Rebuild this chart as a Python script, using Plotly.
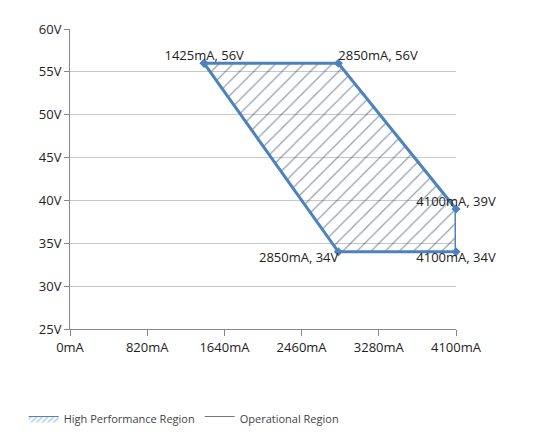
import plotly.graph_objects as go

# vertices of the high performance region
current_ma = [1425, 2850, 4100, 4100, 2850, 1425]
voltage_v = [56, 56, 39, 34, 34, 56]

label_x = [1425, 2850, 4100, 2850, 4100]
label_y = [56, 56, 39, 34, 34]
label_text = ["1425mA, 56V", "2850mA, 56V", "4100mA, 39V", "2850mA, 34V", "4100mA, 34V"]
label_pos = ["top center", "top right", "top center", "bottom left", "bottom center"]

x_ticks = [0, 820, 1640, 2460, 3280, 4100]
y_ticks = [25, 30, 35, 40, 45, 50, 55, 60]

blue = "#4f81bd"
hatch = dict(shape="/", fgcolor="#1f3f6f", size=10, solidity=0.12)

fig = go.Figure()
fig.add_trace(go.Scatter(
    x=current_ma, y=voltage_v, mode="lines+markers", fill="toself",
    fillcolor="rgba(255,255,255,0)", fillpattern=hatch,
    line=dict(color=blue, width=3), marker=dict(color=blue, size=7, symbol="diamond"),
    showlegend=False, cliponaxis=False,
))
fig.add_trace(go.Scatter(
    x=label_x, y=label_y, mode="text", text=label_text, textposition=label_pos,
    textfont=dict(size=13, color="#222"), showlegend=False, hoverinfo="skip",
    cliponaxis=False,
))
# legend-only entries
fig.add_trace(go.Scatter(
    x=[None, None], y=[None, None], fill="toself", mode="lines",
    fillcolor="rgba(255,255,255,0)", fillpattern=dict(shape="/", fgcolor=blue, size=4, solidity=0.3),
    line=dict(color=blue, width=1), name="High Performance Region",
))
fig.add_trace(go.Scatter(
    x=[None, None], y=[None, None], fill="toself", mode="lines",
    fillcolor="white", line=dict(color="#777", width=1),
    name="Operational Region",
))

fig.update_layout(
    width=535, height=437, plot_bgcolor="white", paper_bgcolor="white",
    margin=dict(l=62, r=87, t=18, b=107),
    font=dict(family="Open Sans, Liberation Sans, sans-serif", size=13, color="#222"),
    legend=dict(orientation="h", x=-0.12, y=-0.25, xanchor="left", yanchor="top",
                font=dict(size=11, color="#444")),
)
fig.update_xaxes(range=[0, 4100], tickvals=x_ticks, ticktext=[f"{v}mA" for v in x_ticks],
                 showgrid=False, showline=True, linecolor="#888", ticks="outside",
                 tickcolor="#888", ticklen=6, zeroline=False)
fig.update_yaxes(range=[25, 60], tickvals=y_ticks, ticktext=[f"{v}V" for v in y_ticks],
                 showgrid=True, gridcolor="#c8c8c8", showline=True, linecolor="#888",
                 ticks="outside", tickcolor="#888", ticklen=5, zeroline=False)

fig.write_html("out.html")
